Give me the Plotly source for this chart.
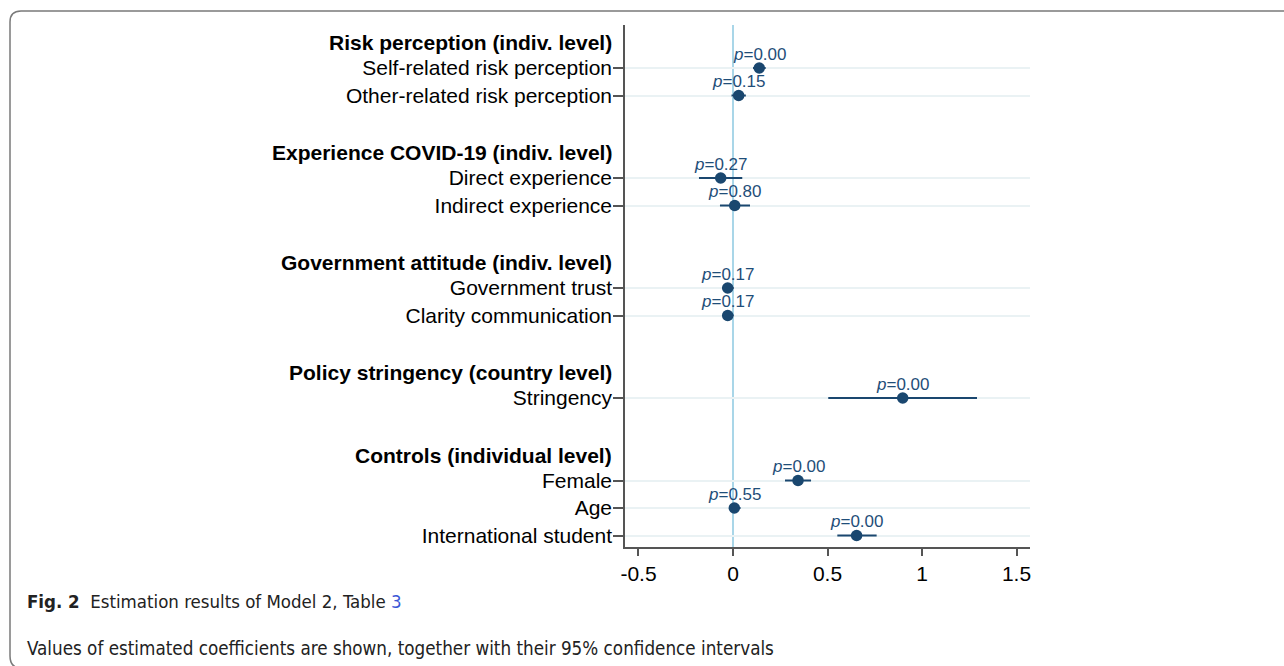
import plotly.graph_objects as go

# ---- data ----
group_headers = [
    "Risk perception (indiv. level)",
    "Experience COVID-19 (indiv. level)",
    "Government attitude (indiv. level)",
    "Policy stringency (country level)",
    "Controls (individual level)",
]
group_items = [
    ["Self-related risk perception", "Other-related risk perception"],
    ["Direct experience", "Indirect experience"],
    ["Government trust", "Clarity communication"],
    ["Stringency"],
    ["Female", "Age", "International student"],
]
coef = [0.139, 0.030, -0.065, 0.009, -0.028, -0.028, 0.898, 0.344, 0.007, 0.654]
ci_low = [0.106, -0.008, -0.180, -0.069, -0.056, -0.056, 0.504, 0.275, -0.020, 0.552]
ci_high = [0.173, 0.068, 0.049, 0.090, 0.004, 0.004, 1.291, 0.413, 0.040, 0.760]
pvals = ["0.00", "0.15", "0.27", "0.80", "0.17", "0.17", "0.00", "0.00", "0.55", "0.00"]
x_ticks = [-0.5, 0, 0.5, 1, 1.5]
x_ticklabels = ["-0.5", "0", "0.5", "1", "1.5"]

# ---- layout rows ----
header_slots, item_slots, item_labels = [], [], []
s = 0
for gi, (h, items) in enumerate(zip(group_headers, group_items)):
    if gi > 0:
        s += 1  # blank row
    header_slots.append(s)
    s += 1
    for it in items:
        item_slots.append(s)
        item_labels.append(it)
        s += 1

W, H = 1284, 666
L, R, T, B = 625, 1030, 25, 547
navy = "#1a476f"
sans = "Liberation Sans, Arial, sans-serif"

def ux(px):
    return (px - L) / (R - L)

def vy(py):
    return (B - py) / (B - T)

fig = go.Figure()
fig.add_trace(go.Scatter(
    x=coef, y=item_slots, mode="markers",
    marker=dict(size=11.5, color=navy),
    error_x=dict(type="data", symmetric=False,
                 array=[h - c for h, c in zip(ci_high, coef)],
                 arrayminus=[c - l for c, l in zip(coef, ci_low)],
                 width=0, thickness=2, color=navy),
    hoverinfo="skip", showlegend=False, cliponaxis=False,
))

annotations = []
for c, sl, p in zip(coef, item_slots, pvals):
    annotations.append(dict(
        text="<i>p</i>=" + p, x=c, xref="x", y=sl, yref="y",
        xanchor="center", yanchor="middle", yshift=14, showarrow=False,
        font=dict(family=sans, size=17, color="#1f4e79"),
    ))
for h, sl in zip(group_headers, header_slots):
    annotations.append(dict(
        text="<b>" + h + "</b>", x=0, xref="paper", y=sl, yref="y",
        xanchor="right", yanchor="middle", xshift=-11, yshift=-2, showarrow=False,
        font=dict(family=sans, size=21, color="#000000"),
    ))

cap_font = "Liberation Sans Narrow, DejaVu Sans Condensed, Arial Narrow, sans-serif"
annotations.append(dict(
    text="<b>Fig. 2</b>  Estimation results of Model 2, Table <span style='color:#3a57d6'>3</span>",
    x=ux(25), xref="paper", y=vy(601), yref="paper", xanchor="left", yanchor="middle",
    showarrow=False, font=dict(family=cap_font, size=18.5, color="#222222"),
))
annotations.append(dict(
    text="Values of estimated coefficients are shown, together with their 95% confidence intervals",
    x=ux(25), xref="paper", y=vy(648), yref="paper", xanchor="left", yanchor="middle",
    showarrow=False, font=dict(family=cap_font, size=18.7, color="#222222"),
))

shapes = [
    dict(type="line", x0=0, x1=0, xref="x", y0=0, y1=1, yref="paper",
         line=dict(color="#a9d6e8", width=2), layer="below"),
    dict(type="path", xref="paper", yref="paper",
         path=(f"M {ux(1300)},{vy(11)} L {ux(21)},{vy(11)} "
               f"Q {ux(10)},{vy(11)} {ux(10)},{vy(22)} "
               f"L {ux(10)},{vy(656)} Q {ux(10)},{vy(668)} {ux(21)},{vy(668)} "
               f"L {ux(1300)},{vy(668)}"),
         line=dict(color="#7a7a7a", width=1.5)),
]

fig.update_layout(
    width=W, height=H,
    margin=dict(l=L, r=W - R, t=T, b=H - B, pad=0),
    paper_bgcolor="white", plot_bgcolor="white",
    font=dict(family=sans, size=21, color="#000000"),
    xaxis=dict(range=[-0.5714, 1.5714], tickvals=x_ticks, ticktext=x_ticklabels,
               showgrid=False, zeroline=False, showline=True, linecolor="#555555",
               linewidth=1.5, ticks="outside", ticklen=7, tickcolor="#555555",
               tickwidth=1.5, tickfont=dict(size=21)),
    yaxis=dict(range=[18.418, -0.5636], tickvals=item_slots, ticktext=item_labels,
               showgrid=True, gridcolor="#eaf2f4", gridwidth=1.5, zeroline=False,
               showline=True, linecolor="#555555", linewidth=1.5,
               ticks="outside", ticklen=10, tickcolor="#555555", tickwidth=1.5,
               ticklabelstandoff=-3, tickfont=dict(size=21)),
    annotations=annotations, shapes=shapes,
)

fig.write_html("out.html", config={"displayModeBar": False},
               post_script="document.body.style.margin='0';")
